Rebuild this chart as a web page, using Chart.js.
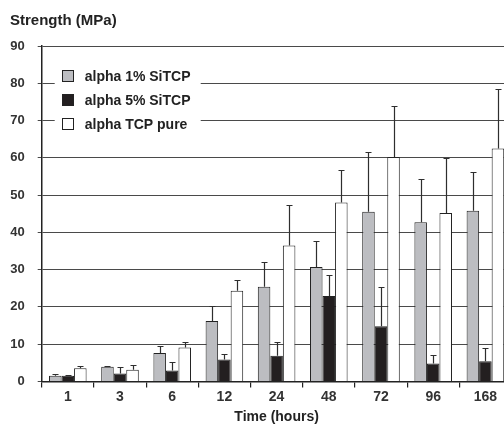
<!DOCTYPE html>
<html>
<head>
<meta charset="utf-8">
<script src="https://cdn.jsdelivr.net/npm/chart.js@4.4.1/dist/chart.umd.min.js"></script>
<style>
html, body { margin: 0; padding: 0; background: #fff; overflow: hidden; }
#wrap { width: 520px; height: 426px; }
</style>
</head>
<body>
<div id="wrap"><canvas id="strengthChart" width="520" height="426"></canvas></div>
<script>
// Data
const times = ["1", "3", "6", "12", "24", "48", "72", "96", "168"];
const yTicks = [0, 10, 20, 30, 40, 50, 60, 70, 80, 90];

const sitcp1 = [1.5, 3.9, 7.6, 16.2, 25.4, 30.7, 45.5, 42.7, 45.8];
const sitcp1Err = [0.4, 0.2, 1.9, 4.0, 6.7, 7.0, 16.1, 11.5, 10.3];

const sitcp5 = [1.5, 2.1, 2.9, 5.9, 6.9, 22.9, 14.8, 4.8, 5.4];
const sitcp5Err = [0.1, 1.7, 2.2, 1.4, 3.8, 5.7, 10.5, 2.2, 3.6];

const tcpPure = [3.5, 3.1, 9.1, 24.3, 36.5, 48.0, 60.2, 45.2, 62.5];
const tcpPureErr = [0.5, 1.3, 1.6, 3.0, 10.8, 8.6, 13.6, 14.8, 16.0];

const errors = [sitcp1Err, sitcp5Err, tcpPureErr];

const FONT = "'Liberation Sans', Arial, sans-serif";

// ---------------- ERROR BARS ----------------

const errorBars = {
    id: "errorBars",
    afterDatasetsDraw(chart) {
        const ctx = chart.ctx;
        const yScale = chart.scales.y;
        ctx.save();
        ctx.strokeStyle = "#2e2e2e";
        ctx.lineWidth = 1.2;
        chart.data.datasets.forEach((ds, i) => {
            chart.getDatasetMeta(i).data.forEach((bar, j) => {
                const top = Math.round(yScale.getPixelForValue(ds.data[j] + errors[i][j])) + 0.5;
                const x = Math.round(bar.x) + 0.5;
                ctx.beginPath();
                ctx.moveTo(x, bar.y);
                ctx.lineTo(x, top);
                ctx.moveTo(x - 3, top);
                ctx.lineTo(x + 3, top);
                ctx.stroke();
            });
        });
        ctx.restore();
    }
};

// ---------------- LEGEND IN PLOT ----------------

const boxLegend = {
    id: "boxLegend",
    beforeDatasetsDraw(chart) {
        const ctx = chart.ctx;
        const a = chart.chartArea;
        ctx.save();
        ctx.fillStyle = "#fff";
        ctx.fillRect(a.left + 13, a.top + 22, 146, 68);
        ctx.font = "bold 14px " + FONT;
        ctx.textBaseline = "middle";
        chart.data.datasets.forEach((ds, i) => {
            const cy = Math.round(a.top + 30 + i * 24);
            const bx = Math.round(a.left + 20) + 0.5;
            ctx.fillStyle = ds.backgroundColor;
            ctx.fillRect(bx, cy - 5.5, 11, 11);
            ctx.strokeStyle = "#222";
            ctx.lineWidth = 1;
            ctx.strokeRect(bx, cy - 5.5, 11, 11);
            ctx.fillStyle = "#222";
            ctx.fillText(ds.label, a.left + 43, cy + 1);
        });
        ctx.restore();
    }
};

// ---------------- BAR CHART ----------------

new Chart(document.getElementById("strengthChart"), {
    type: "bar",
    data: {
        labels: times,
        datasets: [
            {
                label: "alpha 1% SiTCP",
                data: sitcp1,
                backgroundColor: "#bcbdc1",
                borderColor: "#222",
                borderWidth: 1
            },
            {
                label: "alpha 5% SiTCP",
                data: sitcp5,
                backgroundColor: "#231f20",
                borderColor: "#222",
                borderWidth: 1
            },
            {
                label: "alpha TCP pure",
                data: tcpPure,
                backgroundColor: "#ffffff",
                borderColor: "#222",
                borderWidth: 1
            }
        ]
    },
    options: {
        responsive: false,
        animation: false,
        layout: { padding: { left: 10, right: 8.5, top: 0, bottom: 0 } },
        datasets: {
            bar: { categoryPercentage: 0.72, barPercentage: 1.0 }
        },
        scales: {
            x: {
                grid: { drawOnChartArea: false, tickLength: 6, color: "#222", lineWidth: 1.2 },
                border: { color: "#222", width: 1.5 },
                ticks: { padding: 1, color: "#333", font: { family: FONT, size: 14, weight: "bold" } },
                title: {
                    display: true,
                    text: "Time (hours)",
                    color: "#222",
                    padding: { top: 3, bottom: 0 },
                    font: { family: FONT, size: 14, weight: "bold" }
                }
            },
            y: {
                min: 0,
                max: 90,
                afterFit: (s) => { s.width = 31.7; },
                afterBuildTicks: (s) => { s.ticks = yTicks.map(v => ({ value: v })); },
                grid: { color: "#4a4a4a", lineWidth: 1, tickLength: 4 },
                border: { color: "#222", width: 1.5 },
                ticks: { padding: 13, color: "#333", font: { family: FONT, size: 13, weight: "bold" } }
            }
        },
        plugins: {
            legend: { display: false },
            tooltip: { enabled: false },
            title: {
                display: true,
                text: "Strength (MPa)",
                align: "start",
                color: "#222",
                padding: { top: 12, bottom: 16 },
                font: { family: FONT, size: 15, weight: "bold" }
            }
        }
    },
    plugins: [boxLegend, errorBars]
});
</script>
</body>
</html>
